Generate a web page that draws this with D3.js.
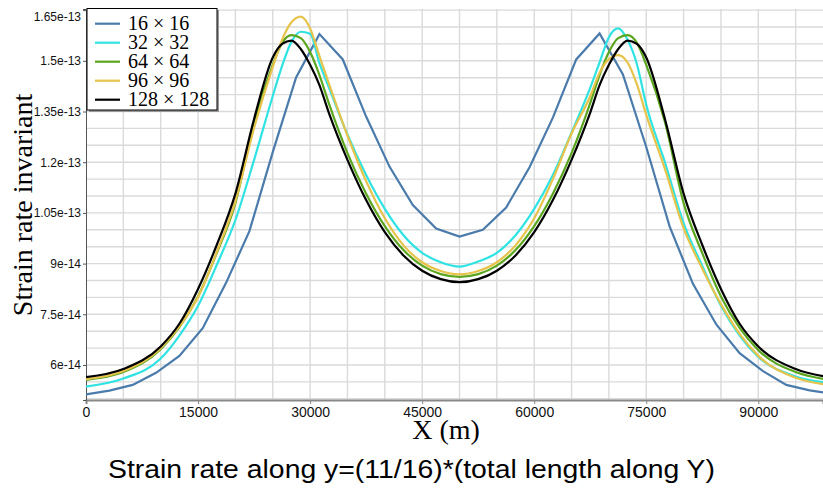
<!DOCTYPE html>
<meta charset="utf-8">
<style>
  body { margin: 0; background: #fff; }
</style>
<body>
<script src="https://cdn.jsdelivr.net/npm/d3@7"></script>
<script>

    // values are in units of 1e-14
    var xs16 = [0, 3125, 6250, 9375, 12500, 15625, 18750, 21875, 25000, 28125, 31250, 34375, 37500,
        40625, 43750, 46875, 50000, 53125, 56250, 59375, 62500, 65625, 68750, 71875, 75000,
        78125, 81250, 84375, 87500, 90625, 93750, 96875, 100000];
    var s16 = [5.13, 5.24, 5.41, 5.77, 6.27, 7.09, 8.43, 9.96, 12.30, 14.51, 15.79, 15.04, 13.35,
        11.87, 10.73, 10.04, 9.80, 10.0, 10.66, 11.85, 13.32, 15.04, 15.81, 14.6, 12.45,
        10.1, 8.4, 7.2, 6.35, 5.82, 5.41, 5.25, 5.14];

    var xs = [0, 5000, 10000, 12500, 15000, 17500, 20000, 22500, 25000, 26250, 27500, 28750, 30000,
        31250, 32500, 35000, 37500, 40000, 42500, 45000, 47500, 50000, 52500, 55000, 57500,
        60000, 62500, 65000, 67500, 68750, 70000, 71250, 72500, 73750, 75000, 77500, 80000,
        82500, 85000, 87500, 90000, 95000, 100000];
    var s32 = [5.36, 5.60, 6.19, 6.87, 7.75, 8.96, 10.29, 12.07, 13.96, 14.85, 15.56, 15.86, 15.80,
        14.93, 14.22, 12.82, 11.62, 10.62, 9.84, 9.32, 9.04, 8.91, 9.06, 9.32, 9.84,
        10.62, 11.62, 12.88, 14.2, 14.95, 15.7, 15.96, 15.62, 14.9, 13.7, 12.0, 10.2,
        8.93, 7.75, 6.87, 6.24, 5.66, 5.46];
    var s64 = [5.56, 5.79, 6.47, 7.12, 8.03, 9.31, 10.79, 13.19, 14.88, 15.53, 15.76, 15.67, 15.26,
        14.58, 13.75, 12.27, 11.07, 10.11, 9.40, 8.94, 8.69, 8.61, 8.69, 8.94, 9.40,
        10.11, 11.07, 12.27, 13.75, 14.58, 15.26, 15.67, 15.76, 15.53, 14.88, 13.19, 10.79,
        9.31, 8.03, 7.1, 6.44, 5.79, 5.55];
    var s96 = [5.58, 5.82, 6.50, 7.14, 8.01, 9.34, 10.85, 13.01, 14.82, 15.62, 16.14, 16.31, 15.96,
        15.14, 14.34, 12.79, 11.44, 10.34, 9.54, 9.04, 8.78, 8.68, 8.78, 9.04, 9.54,
        10.34, 11.5, 12.85, 13.95, 14.65, 15.05, 15.17, 14.95, 14.3, 13.4, 11.8, 10.05,
        8.85, 7.8, 6.92, 6.27, 5.62, 5.40];
    var s128 = [5.64, 5.88, 6.55, 7.22, 8.25, 9.55, 11.07, 13.28, 15.1, 15.50, 15.60, 15.35, 14.88,
        14.28, 13.47, 12.07, 10.88, 9.93, 9.24, 8.79, 8.54, 8.45, 8.54, 8.79, 9.24,
        9.93, 10.88, 12.07, 13.47, 14.28, 14.88, 15.35, 15.60, 15.50, 15.1, 13.28, 11.07,
        9.55, 8.25, 7.22, 6.55, 5.88, 5.63];

    var names = ["16 \u00d7 16", "32 \u00d7 32", "64 \u00d7 64", "96 \u00d7 96", "128 \u00d7 128"];
    var colors = ["#4a7bab", "#30e3e3", "#5aa61e", "#e6c34a", "#000000"];

    var xTicks = [0, 15000, 30000, 45000, 60000, 75000, 90000];
    var yTicks = [6, 7.5, 9, 10.5, 12, 13.5, 15, 16.5];
    var yTickLabels = ["6e-14", "7.5e-14", "9e-14", "1.05e-13", "1.2e-13", "1.35e-13", "1.5e-13", "1.65e-13"];

    var width = 823,
        height = 490;
    var plotLeft = 86, plotRight = 823, plotTop = 9, plotBottom = 400;

    var x = d3.scaleLinear().domain([0, 98660]).range([plotLeft, plotRight]);
    var y = d3.scaleLinear().domain([4.9645, 16.533]).range([plotBottom, plotTop]);

    var svg = d3.select("body").append("svg")
            .attr("width", width)
            .attr("height", height);

    svg.append("clipPath").attr("id", "plot")
        .append("rect")
        .attr("x", plotLeft).attr("y", plotTop - 2)
        .attr("width", plotRight - plotLeft).attr("height", plotBottom - plotTop + 2);

    // grid
    var grid = svg.append("g").attr("stroke", "#dadada").attr("stroke-width", 1.4);
    grid.selectAll(".gx").data(d3.range(5000, 98660, 5000)).enter().append("line")
        .attr("x1", d => x(d)).attr("x2", d => x(d))
        .attr("y1", plotTop).attr("y2", plotBottom);
    grid.selectAll(".gy").data(d3.range(5, 16.6, 0.5)).enter().append("line")
        .attr("x1", plotLeft).attr("x2", plotRight)
        .attr("y1", d => y(d)).attr("y2", d => y(d));

    // axes
    var xAxis = svg.append("g")
        .attr("transform", "translate(0," + plotBottom + ")")
        .call(d3.axisBottom(x).tickValues(xTicks).tickSize(4).tickPadding(3).tickFormat(d3.format("d")))
        .attr("font-family", "Liberation Sans, Arial, sans-serif")
        .attr("font-size", 14);
    xAxis.select(".domain").attr("stroke", "#888").attr("stroke-width", 2);
    xAxis.selectAll(".tick line").attr("stroke", "#888");
    xAxis.selectAll(".tick text").attr("fill", "#111");

    var yAxis = svg.append("g")
        .attr("transform", "translate(" + plotLeft + ",0)")
        .call(d3.axisLeft(y).tickValues(yTicks).tickSize(3).tickPadding(2)
            .tickFormat((d, i) => yTickLabels[i]))
        .attr("font-family", "Liberation Sans, Arial, sans-serif")
        .attr("font-size", 12);
    yAxis.select(".domain").attr("stroke", "#555").attr("stroke-width", 1);
    yAxis.selectAll(".tick line").attr("stroke", "#555");
    yAxis.selectAll(".tick text").attr("fill", "#111");
    yAxis.selectAll(".tick text").filter(d => d === 16.5).attr("dy", "0.85em");

    // curves
    var series = [
        {xs: xs16, ys: s16, curve: d3.curveLinear},
        {xs: xs, ys: s32, curve: d3.curveMonotoneX},
        {xs: xs, ys: s64, curve: d3.curveMonotoneX},
        {xs: xs, ys: s96, curve: d3.curveMonotoneX},
        {xs: xs, ys: s128, curve: d3.curveMonotoneX}
    ];

    var lines = svg.append("g").attr("clip-path", "url(#plot)");
    series.forEach(function(s, i) {
        var line = d3.line()
            .x((d, j) => x(s.xs[j]))
            .y(d => y(d))
            .curve(s.curve);
        lines.append("path")
            .attr("d", line(s.ys))
            .attr("fill", "none")
            .attr("stroke", colors[i])
            .attr("stroke-width", 2.2);
    });

    // legend
    var legend = svg.append("g");
    legend.append("rect")
        .attr("x", 89).attr("y", 10).attr("width", 130).attr("height", 102)
        .attr("fill", "#999");
    legend.append("rect")
        .attr("x", 87).attr("y", 8.5).attr("width", 130).attr("height", 101.5)
        .attr("fill", "#fff").attr("stroke", "#000").attr("stroke-width", 1);
    names.forEach(function(n, i) {
        var ly = 23.7 + i * 19;
        legend.append("line")
            .attr("x1", 95).attr("x2", 120).attr("y1", ly).attr("y2", ly)
            .attr("stroke", colors[i]).attr("stroke-width", 2.2);
        legend.append("text")
            .attr("x", 128).attr("y", ly + 6.5)
            .attr("font-family", "Liberation Serif, serif")
            .attr("font-size", 20)
            .text(n);
    });

    // titles
    svg.append("text")
        .attr("x", 446).attr("y", 439)
        .attr("text-anchor", "middle")
        .attr("font-family", "Liberation Serif, serif")
        .attr("font-size", 28)
        .text("X (m)");

    svg.append("text")
        .attr("transform", "translate(32,205) rotate(-90)")
        .attr("text-anchor", "middle")
        .attr("font-family", "Liberation Serif, serif")
        .attr("font-size", 28)
        .text("Strain rate invariant");

    svg.append("text")
        .attr("x", 108).attr("y", 478)
        .attr("font-family", "Liberation Sans, Arial, sans-serif")
        .attr("font-size", 25)
        .attr("textLength", 607)
        .attr("lengthAdjust", "spacingAndGlyphs")
        .text("Strain rate along y=(11/16)*(total length along Y)");

</script>
